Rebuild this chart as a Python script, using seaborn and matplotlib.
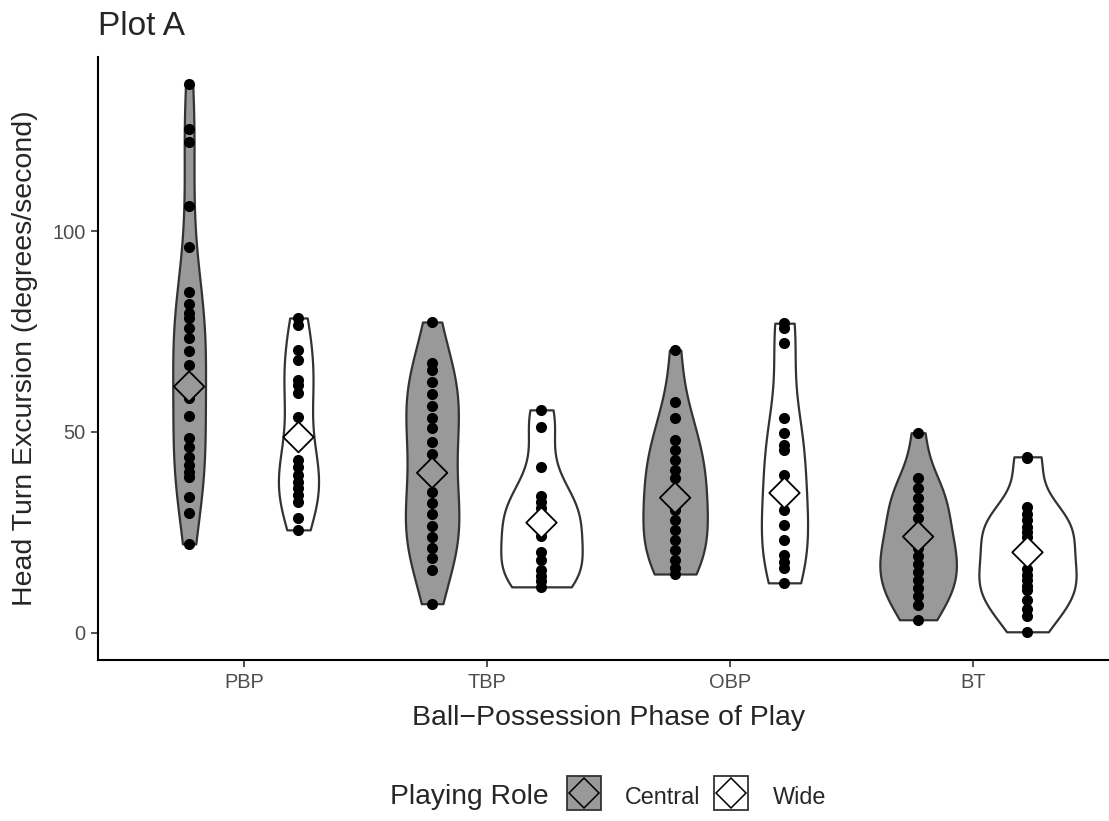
import matplotlib

matplotlib.use("Agg")
import matplotlib.pyplot as plt
import numpy as np
import pandas as pd
import seaborn as sns
from matplotlib.legend_handler import HandlerTuple
from matplotlib.lines import Line2D

# categories
phases = ["PBP", "TBP", "OBP", "BT"]
roles = ["Central", "Wide"]

# head turn excursion (degrees/second)
pbp_central = [136.6, 125.4, 122.2, 106.2, 96.0, 84.8, 82.0, 79.6, 78.4, 75.9,
               73.4, 70.2, 66.7, 63.5, 61.0, 58.5, 54.0, 48.5, 46.3, 43.8,
               41.8, 40.0, 38.8, 33.8, 29.8, 22.1]
pbp_wide = [78.4, 76.6, 70.4, 67.9, 62.9, 61.7, 59.7, 53.7, 48.5, 43.0,
            41.3, 39.3, 37.6, 36.0, 34.3, 32.6, 28.6, 25.6]
tbp_central = [77.4, 67.2, 65.4, 62.5, 59.5, 56.5, 53.5, 51.0, 47.5, 44.5,
               38.5, 35.1, 32.3, 29.5, 26.5, 23.9, 21.0, 18.5, 15.7, 7.2]
tbp_wide = [55.5, 51.3, 41.3, 34.0, 32.6, 31.0, 28.0, 26.5, 24.0, 20.2,
            18.2, 15.6, 14.2, 12.8, 11.4]
obp_central = [70.4, 57.5, 53.5, 48.0, 45.5, 43.0, 40.5, 38.5, 35.5, 32.0,
               30.5, 28.0, 25.5, 23.0, 20.5, 18.0, 16.0, 14.6]
obp_wide = [77.1, 75.9, 72.1, 53.5, 49.8, 46.8, 45.5, 39.3, 34.5, 30.6,
            26.9, 23.1, 19.4, 17.7, 16.2, 12.4]
bt_central = [49.8, 38.5, 36.0, 33.5, 31.0, 28.5, 26.0, 22.0, 21.0, 19.0,
              17.0, 15.0, 13.0, 11.0, 9.2, 6.8, 3.2]
bt_wide = [43.8, 43.4, 31.2, 29.6, 28.0, 26.4, 25.0, 23.8, 21.0, 19.0,
           15.8, 14.4, 13.0, 11.6, 10.6, 8.2, 6.0, 4.2, 0.2]

# plotted group means (diamonds)
mean_central = [61.3, 39.8, 33.6, 23.9]
mean_wide = [48.7, 27.4, 34.8, 20.0]

fill = {"Central": "#999999", "Wide": "#FFFFFF"}
dodge_offset = {"Central": -0.225, "Wide": 0.225}

groups = {
    ("PBP", "Central"): pbp_central, ("PBP", "Wide"): pbp_wide,
    ("TBP", "Central"): tbp_central, ("TBP", "Wide"): tbp_wide,
    ("OBP", "Central"): obp_central, ("OBP", "Wide"): obp_wide,
    ("BT", "Central"): bt_central, ("BT", "Wide"): bt_wide,
}
# widest point of each violin as drawn in the reference (category units)
violin_width = {
    ("PBP", "Central"): 0.135, ("PBP", "Wide"): 0.165,
    ("TBP", "Central"): 0.22, ("TBP", "Wide"): 0.335,
    ("OBP", "Central"): 0.265, ("OBP", "Wide"): 0.19,
    ("BT", "Central"): 0.315, ("BT", "Wide"): 0.40,
}

rows = [(p, r, v) for (p, r), vals in groups.items() for v in vals]
df = pd.DataFrame(rows, columns=["phase", "role", "value"])
df["xpos"] = df["phase"].map(phases.index) + df["role"].map(dodge_offset)

means = pd.DataFrame({
    "phase": phases * 2,
    "role": ["Central"] * 4 + ["Wide"] * 4,
    "value": mean_central + mean_wide,
})
means["xpos"] = means["phase"].map(phases.index) + means["role"].map(dodge_offset)

sns.set_style("ticks")
plt.rcParams["font.family"] = ["Liberation Sans", "DejaVu Sans"]

fig = plt.figure(figsize=(11.09, 8.21), dpi=100)
ax = fig.add_axes([98 / 1109, 1 - 660 / 821, 1020.6 / 1109, 603 / 821])

for (phase, role), vals in groups.items():
    sub = df[(df["phase"] == phase) & (df["role"] == role)]
    # R's bw.nrd0, expressed as a factor of the sample sd
    sd = np.std(vals, ddof=1)
    iqr = np.subtract(*np.percentile(vals, [75, 25]))
    bw = 0.9 * min(sd, iqr / 1.34) / sd * len(vals) ** -0.2
    sns.violinplot(
        data=sub, x="phase", y="value", hue="role", order=phases,
        hue_order=roles, palette=fill, inner=None, cut=0, dodge=True,
        density_norm="width", width=0.9, gap=1 - violin_width[(phase, role)] / 0.45,
        bw_method=bw, linewidth=1.6, linecolor="#333333", saturation=1,
        legend=False, ax=ax,
    )

sns.scatterplot(data=df, x="xpos", y="value", color="black", s=64,
                edgecolor="black", linewidth=0, legend=False, ax=ax, zorder=3)
sns.scatterplot(data=means, x="xpos", y="value", hue="role", hue_order=roles,
                palette=fill, marker="D", s=240, edgecolor="black",
                linewidth=1.3, legend=False, ax=ax, zorder=4)

ax.set_xlim(-0.6, 3.6)
ax.set_ylim(-6.83, 143.43)
ax.set_xticks(range(len(phases)))
ax.set_xticklabels(phases)
ax.set_yticks([0, 50, 100])
ax.tick_params(axis="both", labelsize=14.4, labelcolor="#4D4D4D",
               length=5, width=1.2, color="#333333", pad=4)
for side in ["left", "bottom"]:
    ax.spines[side].set_linewidth(1.5)
    ax.spines[side].set_color("black")
sns.despine(ax=ax)

ax.set_xlabel("Ball\u2212Possession Phase of Play", fontsize=20.5, labelpad=10)
ax.set_ylabel("Head Turn Excursion (degrees/second)", fontsize=20.5, labelpad=10)
ax.set_title("Plot A", loc="left", fontsize=24, pad=16)

handles = [
    (Line2D([], [], marker="s", markersize=24.5, markerfacecolor=fill[r],
            markeredgecolor="#333333", markeredgewidth=1.3, linestyle="none"),
     Line2D([], [], marker="D", markersize=15, markerfacecolor=fill[r],
            markeredgecolor="black", markeredgewidth=1.1, linestyle="none"))
    for r in roles
]
fig.text(390 / 1109, 1 - 797 / 821, "Playing Role", fontsize=20.3,
         ha="left", va="center")
fig.legend(handles, roles, handler_map={tuple: HandlerTuple(ndivide=1, pad=0)},
           loc="center left", bbox_to_anchor=(555 / 1109, 1 - 796 / 821),
           ncol=2, frameon=False, fontsize=16.8, borderpad=0, numpoints=1,
           handlelength=1.45, handleheight=1.45, handletextpad=1.05,
           columnspacing=0.6)

fig.savefig("out.png", dpi=100)
